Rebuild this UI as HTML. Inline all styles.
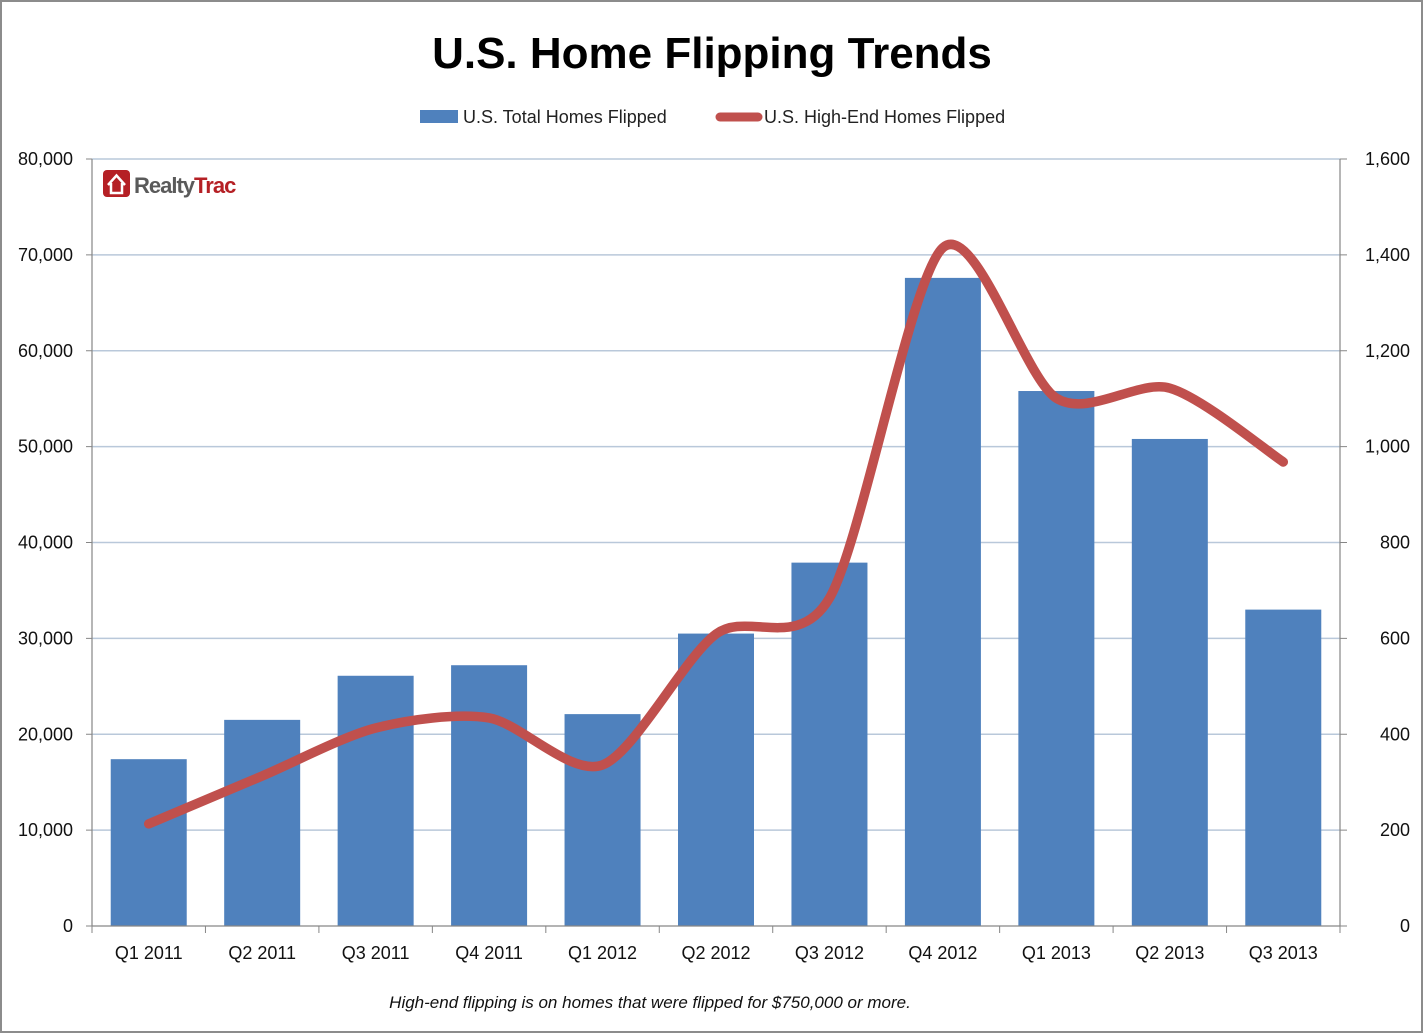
<!DOCTYPE html>
<html><head><meta charset="utf-8"><style>
html,body{margin:0;padding:0;background:#fff;}
svg{display:block;font-family:"Liberation Sans",Arial,sans-serif;}
</style></head><body>
<svg id="chart" width="1424" height="1034" viewBox="0 0 1424 1034" xmlns="http://www.w3.org/2000/svg">
<rect x="1" y="1" width="1421" height="1031" fill="#fff" stroke="#8c8c8c" stroke-width="2"/>
<text x="712" y="68" text-anchor="middle" font-size="44" font-weight="bold" fill="#000">U.S. Home Flipping Trends</text>
<g>
<g><rect x="420" y="110" width="38" height="13" fill="#4F81BD"/><text x="463" y="123" font-size="18" fill="#222">U.S. Total Homes Flipped</text></g>
<g><line x1="720" y1="117" x2="758" y2="117" stroke="#C0504D" stroke-width="9" stroke-linecap="round"/><text x="764" y="123" font-size="18" fill="#222">U.S. High-End Homes Flipped</text></g>
</g>
<g id="grid"></g>
<g id="bars"></g>
<g id="axes"></g>
<g id="line"></g>
<g>
<rect x="103" y="170" width="27" height="27" rx="4" fill="#B52025"/>
<path d="M108 185 L116.5 175.5 L125 185 M111 183 V193 H122 V183" fill="none" stroke="#fff" stroke-width="2.5"/>
<text x="134" y="193" font-size="22" font-weight="bold" fill="#5a5a5a" letter-spacing="-1">Realty<tspan fill="#B52025">Trac</tspan></text>
</g>
<text x="650" y="1008" text-anchor="middle" font-size="17" font-style="italic" fill="#111">High-end flipping is on homes that were flipped for $750,000 or more.</text>
</svg>
<script>
const categories=["Q1 2011","Q2 2011","Q3 2011","Q4 2011","Q1 2012","Q2 2012","Q3 2012","Q4 2012","Q1 2013","Q2 2013","Q3 2013"];
const totalFlipped=[17400,21500,26100,27200,22100,30500,37900,67600,55800,50800,33000];
const highEndFlipped=[213,313,413,434,336,609,684,1415,1101,1122,968];
const leftTicks=[0,10000,20000,30000,40000,50000,60000,70000,80000];
const rightTicks=[0,200,400,600,800,1000,1200,1400,1600];

const NS="http://www.w3.org/2000/svg";
const X0=92,X1=1340,Y0=926,Y1=159;
const bw=(X1-X0)/categories.length;
const yL=v=>Y0-(v/80000)*(Y0-Y1);
const yR=v=>Y0-(v/1600)*(Y0-Y1);
const xC=i=>X0+bw*(i+0.5);
function mk(tag,attrs,parent){const e=document.createElementNS(NS,tag);for(const k in attrs)e.setAttribute(k,attrs[k]);parent.appendChild(e);return e;}
const grid=document.getElementById('grid'),bars=document.getElementById('bars'),axes=document.getElementById('axes'),lineG=document.getElementById('line');
const fmt=v=>v.toLocaleString('en-US');
leftTicks.forEach((v,i)=>{
  const y=yL(v);
  if(v>0){const g=mk('line',{x1:X0,y1:y,x2:X1,y2:y,stroke:'#B9C8DA','stroke-width':1.5},grid);
  
  }
  mk('line',{x1:X0-6,y1:y,x2:X0,y2:y,stroke:'#868686'},axes);
  const t=mk('text',{x:73,y:y+6,'text-anchor':'end','font-size':18,fill:'#111'},axes);t.textContent=fmt(v);
  
  
});
rightTicks.forEach(v=>{
  const y=yR(v);
  mk('line',{x1:X1,y1:y,x2:X1+7,y2:y,stroke:'#868686'},axes);
  const t=mk('text',{x:1410,y:y+6,'text-anchor':'end','font-size':18,fill:'#111'},axes);t.textContent=fmt(v);
  
  
});
totalFlipped.forEach((v,i)=>{
  const w=76,y=yL(v);
  const r=mk('rect',{x:xC(i)-w/2,y:y,width:w,height:Y0-y,fill:'#4F81BD'},bars);
  
  
});
mk('line',{x1:X0,y1:Y1,x2:X0,y2:Y0,stroke:'#868686','stroke-width':1.2},axes);
mk('line',{x1:X1,y1:Y1,x2:X1,y2:Y0,stroke:'#868686','stroke-width':1.2},axes);
mk('line',{x1:X0,y1:Y0,x2:X1,y2:Y0,stroke:'#868686','stroke-width':1.2},axes);
for(let i=0;i<=categories.length;i++){const x=X0+bw*i;mk('line',{x1:x,y1:Y0,x2:x,y2:Y0+7,stroke:'#868686'},axes);}
categories.forEach((c,i)=>{
  const t=mk('text',{x:xC(i),y:959,'text-anchor':'middle','font-size':18,fill:'#111'},axes);t.textContent=c;
  
  
});
const pts=highEndFlipped.map((v,i)=>[xC(i),yR(v)]);
let d='M'+pts[0][0]+' '+pts[0][1];
for(let i=0;i<pts.length-1;i++){
  const p0=pts[Math.max(0,i-1)],p1=pts[i],p2=pts[i+1],p3=pts[Math.min(pts.length-1,i+2)];
  const t=0.14;
  const c1=[p1[0]+(p2[0]-p0[0])*t,p1[1]+(p2[1]-p0[1])*t];
  const c2=[p2[0]-(p3[0]-p1[0])*t,p2[1]-(p3[1]-p1[1])*t];
  d+=` C${c1[0]} ${c1[1]} ${c2[0]} ${c2[1]} ${p2[0]} ${p2[1]}`;
}
const path=mk('path',{d:d,fill:'none',stroke:'#C0504D','stroke-width':9.5,'stroke-linecap':'round','stroke-linejoin':'round'},lineG);


</script>
</body></html>
